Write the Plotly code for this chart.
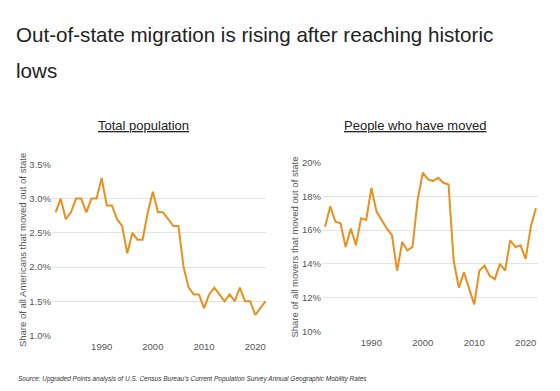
import plotly.graph_objects as go

years = list(range(1981, 2023))
total_pop = [2.8, 3.0, 2.7, 2.8, 3.0, 3.0, 2.8, 3.0, 3.0, 3.3,
             2.9, 2.9, 2.7, 2.6, 2.2, 2.5, 2.4, 2.4, 2.8, 3.1,
             2.8, 2.8, 2.7, 2.6, 2.6, 2.0, 1.7, 1.6, 1.6, 1.4,
             1.6, 1.7, 1.6, 1.5, 1.6, 1.5, 1.7, 1.5, 1.5, 1.3,
             1.4, 1.5]
movers = [16.2, 17.4, 16.5, 16.4, 15.0, 16.1, 15.1, 16.7, 16.6, 18.5,
          17.1, 16.6, 16.1, 15.7, 13.6, 15.3, 14.8, 15.0, 17.8, 19.4,
          19.0, 18.9, 19.1, 18.8, 18.7, 14.2, 12.6, 13.5, 12.6, 11.6,
          13.6, 13.9, 13.3, 13.1, 14.0, 13.6, 15.4, 15.0, 15.1, 14.3,
          16.2, 17.3]
left_ticks = [1.0, 1.5, 2.0, 2.5, 3.0, 3.5]
left_tick_text = ["1.0%", "1.5%", "2.0%", "2.5%", "3.0%", "3.5%"]
right_ticks = [10, 12, 14, 16, 18, 20]
right_tick_text = ["10%", "12%", "14%", "16%", "18%", "20%"]
x_ticks = [1990, 2000, 2010, 2020]
title_lines = ["Out-of-state migration is rising after reaching historic", "lows"]

W, H = 560, 391
ORANGE = "#E8901E"
GRID = "#e2e2e2"
TICKC = "#555555"
FONT = "Liberation Sans, Arial, sans-serif"

def fx(px):
    return px / W

def fy(py):
    return 1 - py / H

fig = go.Figure()
fig.add_trace(go.Scatter(x=years, y=total_pop, mode="lines",
                         line=dict(color=ORANGE, width=2), xaxis="x", yaxis="y",
                         hoverinfo="skip"))
fig.add_trace(go.Scatter(x=years, y=movers, mode="lines",
                         line=dict(color=ORANGE, width=2), xaxis="x2", yaxis="y2",
                         hoverinfo="skip"))

axis_common = dict(showline=False, zeroline=False, ticks="",
                   tickfont=dict(family=FONT, size=9.5, color=TICKC))

annotations = []
for line, cy in zip(title_lines, [29, 66]):
    annotations.append(dict(text=line, x=fx(14), y=fy(cy), xref="paper", yref="paper",
                            xanchor="left", yanchor="middle", align="left", showarrow=False,
                            font=dict(family=FONT, size=20.6, color="#222222")))
annotations += [
    dict(text="<u>Total population</u>", x=fx(143), y=fy(123), xref="paper", yref="paper",
         xanchor="center", yanchor="middle", showarrow=False,
         font=dict(family=FONT, size=13, color="#222222")),
    dict(text="<u>People who have moved</u>", x=fx(415), y=fy(123), xref="paper", yref="paper",
         xanchor="center", yanchor="middle", showarrow=False,
         font=dict(family=FONT, size=13, color="#222222")),
    dict(text="<i>Source: Upgraded Points analysis of U.S. Census Bureau's Current Population Survey Annual Geographic Mobility Rates</i>",
         x=fx(16), y=fy(384), xref="paper", yref="paper", xanchor="left", yanchor="middle",
         showarrow=False, font=dict(family=FONT, size=6.5, color="#333333")),
]

fig.update_layout(
    width=W, height=H,
    margin=dict(l=0, r=0, t=0, b=0),
    paper_bgcolor="white", plot_bgcolor="white",
    showlegend=False,
    font=dict(family=FONT),
    xaxis=dict(domain=[fx(52), fx(266)], range=[1980.3, 2022.1],
               tickvals=x_ticks, showgrid=False, anchor="y", ticklabelstandoff=4,
               **axis_common),
    yaxis=dict(domain=[fy(339), fy(163)], range=[1.0, 3.5],
               tickvals=left_ticks, ticktext=left_tick_text,
               showgrid=True, gridcolor=GRID, gridwidth=1, anchor="x",
               title=dict(text="Share of all Americans that moved out of state",
                          font=dict(family=FONT, size=9.5, color=TICKC), standoff=1),
               **axis_common),
    xaxis2=dict(domain=[fx(322), fx(538)], range=[1980.4, 2022.4],
                tickvals=x_ticks, showgrid=False, anchor="y2", ticklabelstandoff=4,
                **axis_common),
    yaxis2=dict(domain=[fy(335), fy(161)], range=[10, 20],
                tickvals=right_ticks, ticktext=right_tick_text,
                showgrid=True, gridcolor=GRID, gridwidth=1, anchor="x2",
                title=dict(text="Share of all movers that moved out of state",
                           font=dict(family=FONT, size=9.5, color=TICKC), standoff=1),
                **axis_common),
    annotations=annotations,
)

fig.write_html("out.html", config={"displayModeBar": False},
               post_script="document.body.style.margin='0';")
